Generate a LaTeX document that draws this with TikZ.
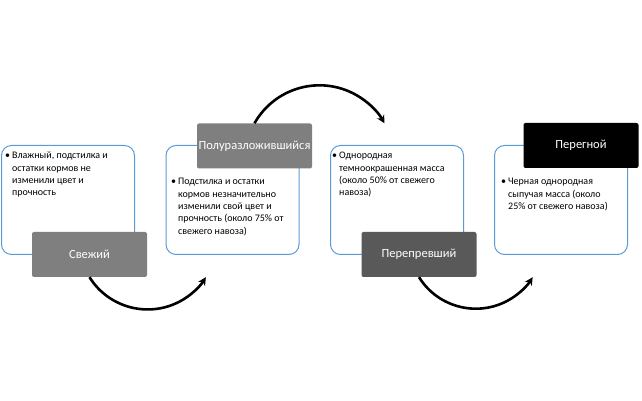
\documentclass[tikz,border=0pt]{standalone}
\usepackage{fontspec}
\setmainfont{Carlito}
\usetikzlibrary{arrows.meta}

\definecolor{boxblue}{RGB}{91,155,213}
\definecolor{stagegray}{RGB}{127,127,127}
\definecolor{stagedark}{RGB}{89,89,89}

% bullet with hanging lines
\newcommand{\bulpoint}[1]{\begin{tabular}[t]{@{}l@{\hspace{2pt}}l@{}}\textbullet&\begin{tabular}[t]{@{}l@{}}#1\end{tabular}\end{tabular}}

\begin{document}
\begin{tikzpicture}[x=1pt, y=1pt,
    textbox/.style={draw=boxblue, line width=1pt, fill=white, rounded corners=10pt,
        minimum width=133pt, minimum height=109pt, inner sep=0pt},
    stage/.style={rounded corners=2pt, minimum width=115pt, minimum height=45pt,
        inner sep=0pt, text=white, font=\fontsize{12.5}{15}\selectfont},
    bodytext/.style={anchor=north west, inner sep=0pt, align=left,
        font=\fontsize{10}{12.3}\selectfont},
    cycle/.style={line width=2.6pt, -{Stealth[length=8pt, width=8pt]}}]
    % Fix the page to the size of the reference (0 < x < 642, 0 < y < 401)
    \useasboundingbox (0,0) rectangle (642,401);

    % Blue outlined boxes
    \node[textbox] (box1) at (68,201) {};
    \node[textbox] (box2) at (232.5,201) {};
    \node[textbox] (box3) at (397,201) {};
    \node[textbox] (box4) at (561,201) {};

    % Bullet texts
    \node[bodytext] (txt1) at (5,251) {\bulpoint{Влажный, подстилка и\\остатки кормов не\\изменили цвет и\\прочность}};
    \node[bodytext] (txt2) at (171,225) {\bulpoint{Подстилка и остатки\\кормов незначительно\\изменили свой цвет и\\прочность (около 75\% от\\свежего навоза)}};
    \node[bodytext] (txt3) at (332,251) {\bulpoint{Однородная\\темноокрашенная масса\\(около 50\% от свежего\\навоза)}};
    \node[bodytext] (txt4) at (501,225) {\bulpoint{Черная однородная\\сыпучая масса (около\\25\% от свежего навоза)}};

    % Stage labels on the box corners
    \node[stage, fill=stagegray] (fresh) at (89.5,146.5) {Свежий};
    \node[stage, fill=stagegray] (half) at (254.5,255) {Полуразложившийся};
    \node[stage, fill=stagedark] (rotted) at (419,146.5) {Перепревший};
    \node[stage, fill=black] (humus) at (581,255.5) {Перегной};

    % Curved arrows from stage to stage
    \draw[cycle] (fresh.south) arc[start angle=212, end angle=328, radius=68.6pt];
    \draw[cycle] (half.north) arc[start angle=150.6, end angle=29.4, radius=74.6pt];
    \draw[cycle] (rotted.south) arc[start angle=212, end angle=328, radius=67pt];
\end{tikzpicture}
\end{document}
